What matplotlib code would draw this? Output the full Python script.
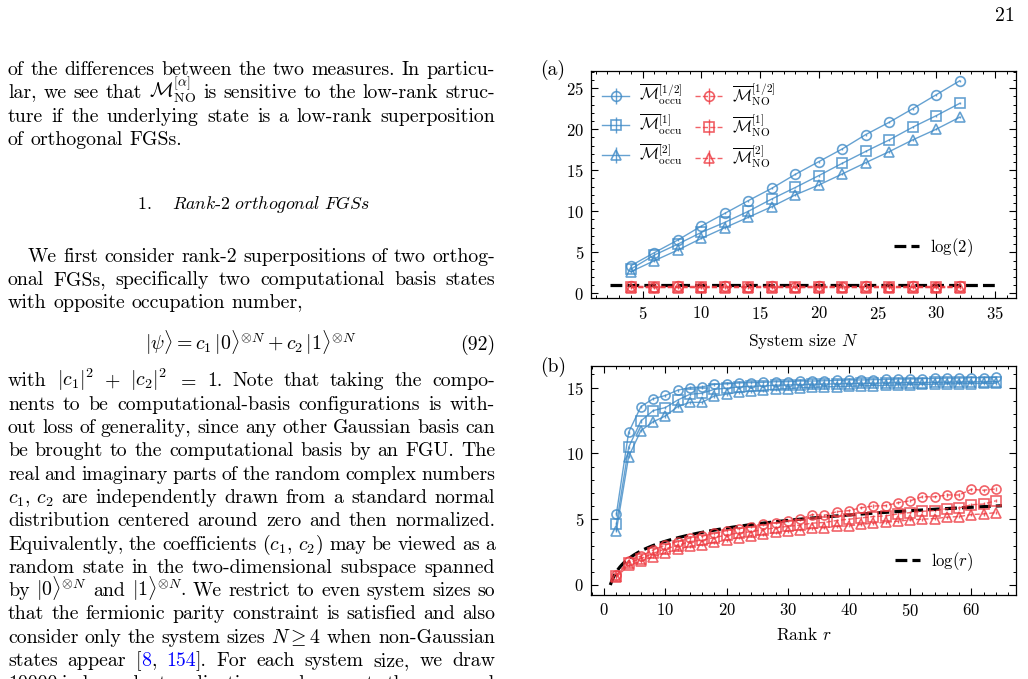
import numpy as np
import matplotlib
matplotlib.use('Agg')
import matplotlib.pyplot as plt
from matplotlib.ticker import MultipleLocator
from matplotlib.colors import to_rgba

plt.rcParams['font.family'] = 'serif'
plt.rcParams['font.serif'] = ['cmr10']
plt.rcParams['mathtext.fontset'] = 'cm'
plt.rcParams['axes.formatter.use_mathtext'] = True
plt.rcParams['axes.unicode_minus'] = False

# ---- data, panel (a): system size N ----
N = [4, 6, 8, 10, 12, 14, 16, 18, 20, 22, 24, 26, 28, 30, 32]
occu_half = [3.37, 4.96, 6.5, 8.2, 9.75, 11.3, 12.8, 14.5, 16.05, 17.6, 19.35, 20.85, 22.5, 24.2, 25.9]
occu_one = [2.96, 4.67, 6.0, 7.43, 8.65, 10.0, 11.5, 12.9, 14.35, 15.85, 17.3, 18.7, 20.25, 21.65, 23.15]
occu_two = [2.64, 3.98, 5.28, 6.7, 8.0, 9.27, 10.56, 12.0, 13.2, 14.55, 15.93, 17.27, 18.7, 20.0, 21.46]
no_half = [0.84, 0.83, 0.84, 0.83, 0.84, 0.83, 0.84, 0.83, 0.84, 0.83, 0.84, 0.83, 0.84, 0.83, 0.84]
no_one = [0.76, 0.75, 0.76, 0.75, 0.76, 0.75, 0.76, 0.75, 0.76, 0.75, 0.76, 0.75, 0.76, 0.75, 0.76]
no_two = [0.7, 0.69, 0.7, 0.69, 0.7, 0.69, 0.7, 0.69, 0.7, 0.69, 0.7, 0.69, 0.7, 0.69, 0.7]
err_a = [0.12] * len(N)

# ---- data, panel (b): rank r ----
r = [2, 4, 6, 8, 10, 12, 14, 16, 18, 20, 22, 24, 26, 28, 30, 32,
     34, 36, 38, 40, 42, 44, 46, 48, 50, 52, 54, 56, 58, 60, 62, 64]
r_occu_half = [5.4, 11.6, 13.55, 14.15, 14.4, 14.8, 15.0, 15.05, 15.25, 15.28, 15.35, 15.38, 15.4, 15.45, 15.45, 15.5,
               15.5, 15.52, 15.55, 15.58, 15.58, 15.6, 15.62, 15.65, 15.65, 15.68, 15.7, 15.72, 15.72, 15.75, 15.75, 15.78]
r_occu_one = [4.63, 10.46, 12.46, 13.25, 13.48, 14.05, 14.49, 14.57, 14.87, 14.95, 15.05, 15.1, 15.12, 15.18, 15.2, 15.22,
              15.25, 15.27, 15.28, 15.3, 15.32, 15.33, 15.35, 15.36, 15.37, 15.38, 15.4, 15.41, 15.42, 15.43, 15.44, 15.45]
r_occu_two = [4.13, 9.75, 11.73, 12.4, 12.84, 13.55, 13.88, 13.88, 14.36, 14.5, 14.65, 14.72, 14.8, 14.88, 14.92, 14.98,
              15.02, 15.05, 15.08, 15.1, 15.13, 15.15, 15.17, 15.2, 15.22, 15.24, 15.26, 15.28, 15.3, 15.31, 15.32, 15.33]
r_no_half = [0.76, 1.85, 2.2, 2.66, 3.04, 3.29, 3.57, 3.7, 3.93, 4.13, 4.28, 4.43, 4.6, 4.73, 4.89, 5.0,
             5.35, 5.3, 5.57, 5.65, 5.87, 6.0, 6.03, 6.25, 6.4, 6.7, 6.7, 6.84, 6.84, 7.27, 7.2, 7.3]
r_no_one = [0.7, 1.7, 2.0, 2.4, 2.75, 3.0, 3.3, 3.4, 3.6, 3.8, 3.95, 4.05, 4.2, 4.35, 4.45, 4.55,
            4.7, 4.75, 4.9, 5.0, 5.1, 5.2, 5.25, 5.4, 5.5, 5.6, 5.65, 5.8, 5.85, 6.1, 6.15, 6.4]
r_no_two = [0.6, 1.5, 1.8, 2.15, 2.45, 2.7, 2.95, 3.05, 3.25, 3.4, 3.6, 3.75, 3.85, 4.0, 4.1, 4.2,
            4.3, 4.35, 4.45, 4.5, 4.6, 4.7, 4.75, 4.85, 4.95, 5.0, 5.05, 5.15, 5.2, 5.35, 5.4, 5.5]
err_b = [0.12] * len(r)

labels = [r'$\overline{\mathcal{M}}^{[1/2]}_{\mathrm{occu}}$',
          r'$\overline{\mathcal{M}}^{[1]}_{\mathrm{occu}}$',
          r'$\overline{\mathcal{M}}^{[2]}_{\mathrm{occu}}$',
          r'$\overline{\mathcal{M}}^{[1/2]}_{\mathrm{NO}}$',
          r'$\overline{\mathcal{M}}^{[1]}_{\mathrm{NO}}$',
          r'$\overline{\mathcal{M}}^{[2]}_{\mathrm{NO}}$']
markers = ['o', 's', '^']

BLUE = to_rgba('#3f8ac6', 0.8)
RED = to_rgba('#ee3b42', 0.8)
LINK = '#0000ff'

W, H = 1028, 679
fig = plt.figure(figsize=(W / 100, H / 100), dpi=100)
renderer = fig.canvas.get_renderer()

def fx(x):
    return x / W

def fy(y):
    return 1 - y / H

# ---------------- body text ----------------
BODY = 14.3

def text_width(s):
    t = fig.text(0, 0, s, fontsize=BODY)
    w = t.get_window_extent(renderer).width
    t.remove()
    return w

def put_line(line, y, x0=8, x1=495, justify=True):
    words = [w for w in line.split(' ') if w]
    pieces = []
    for w in words:
        segs = w.split('@')
        pieces.append([(s, LINK if i % 2 else 'black') for i, s in enumerate(segs) if s])
    widths = [[text_width(s) for s, c in p] for p in pieces]
    total = sum(sum(ws) for ws in widths)
    if justify and len(words) > 1:
        gap = (x1 - x0 - total) / (len(words) - 1)
    else:
        gap = 0.333 * BODY * 100 / 72
    x = x0
    for p, ws in zip(pieces, widths):
        for (s, c), w in zip(p, ws):
            fig.text(fx(x), fy(y), s, fontsize=BODY, color=c, va='baseline', ha='left')
            x += w
        x += gap

LS = 23.3
para1 = ["of the differences between the two measures. In particu-",
         r"lar, we see that $\mathcal{M}^{[\alpha]}_{\mathrm{NO}}$ is sensitive to the low-rank struc-",
         "ture if the underlying state is a low-rank superposition",
         "of orthogonal FGSs."]
para2 = ["We first consider rank-2 superpositions of two orthog-",
         "onal FGSs, specifically two computational basis states",
         "with opposite occupation number,"]
para3 = [r"with $|c_1|^2$ $+$ $|c_2|^2$ $=$ 1.  Note that taking the compo-",
         "nents to be computational-basis configurations is with-",
         "out loss of generality, since any other Gaussian basis can",
         "be brought to the computational basis by an FGU. The",
         "real and imaginary parts of the random complex numbers",
         r"$c_1,\,c_2$ are independently drawn from a standard normal",
         "distribution centered around zero and then normalized.",
         r"Equivalently, the coefficients $(c_1,\,c_2)$ may be viewed as a",
         "random state in the two-dimensional subspace spanned",
         r"by $|0\rangle^{\otimes{N}}$ and $|1\rangle^{\otimes{N}}$. We restrict to even system sizes so",
         "that the fermionic parity constraint is satisfied and also",
         r"consider only the system sizes $N\geq4$ when non-Gaussian",
         "states appear [@8@, @154@]. For each system size, we draw",
         "10000 independent realizations and compute the averaged"]

for i, line in enumerate(para1):
    put_line(line, 75 + i * LS, justify=(i < len(para1) - 1))
fig.text(fx(137), fy(209), r'$\mathit{1.}$', fontsize=13, ha='left', va='baseline')
fig.text(fx(172), fy(209), r'$\mathit{Rank}$-$\mathit{2\ orthogonal\ FGSs}$',
         fontsize=12.8, ha='left', va='baseline')
for i, line in enumerate(para2):
    put_line(line, 261.5 + i * LS, x0=28 if i == 0 else 8, justify=(i < len(para2) - 1))
fig.text(fx(251), fy(350), r'$|\psi\rangle = c_1\,|0\rangle^{\otimes N} + c_2\,|1\rangle^{\otimes N}$',
         fontsize=BODY, ha='center', va='baseline')
fig.text(fx(495), fy(350), '(92)', fontsize=BODY, ha='right', va='baseline')
for i, line in enumerate(para3):
    put_line(line, 386.4 + i * LS)
fig.text(fx(1015), fy(21), '21', fontsize=BODY, ha='right', va='baseline')

# ---------------- panels ----------------
TICK = 12

def style_axes(ax, xmaj, xmin, ymaj, ymin):
    ax.xaxis.set_major_locator(MultipleLocator(xmaj))
    ax.xaxis.set_minor_locator(MultipleLocator(xmin))
    ax.yaxis.set_major_locator(MultipleLocator(ymaj))
    ax.yaxis.set_minor_locator(MultipleLocator(ymin))
    ax.tick_params(which='both', direction='in', top=True, right=True, labelsize=TICK)
    ax.tick_params(which='major', length=5, width=0.8, pad=5)
    ax.tick_params(which='minor', length=2.5, width=0.7)
    for s in ax.spines.values():
        s.set_linewidth(0.9)

def draw_series(ax, x, ys, err, ms):
    handles = []
    for y, m in zip(ys[:3], markers):
        h = ax.errorbar(x, y, yerr=err, color=BLUE, marker=m, mfc='none', mec=BLUE, ms=ms, mew=1.2,
                        lw=1.0, elinewidth=1.0)
        handles.append(h)
    for y, m in zip(ys[3:], markers):
        h = ax.errorbar(x, y, yerr=err, color=RED, marker=m, mfc='none', mec=RED, ms=ms, mew=1.2,
                        lw=1.0, ls='--', elinewidth=1.0)
        handles.append(h)
    return handles

ax1 = fig.add_axes([591 / W, 1 - 298 / H, 425 / W, 227 / H])
hs = draw_series(ax1, N, [occu_half, occu_one, occu_two, no_half, no_one, no_two], err_a, 7)
ref_a, = ax1.plot([2.2, 35], [np.log2(2), np.log2(2)], 'k--', lw=2.3)
ax1.set_xlim(0.6, 36.8)
ax1.set_ylim(-0.57, 27.1)
style_axes(ax1, 5, 1, 5, 1)
ax1.set_xlabel(r'System size $N$', fontsize=12.5, labelpad=7)
leg1 = ax1.legend(hs, labels, loc='upper left', ncol=2, frameon=False, fontsize=11.5,
                  handlelength=1.7, handletextpad=0.6, columnspacing=0.8, labelspacing=0.35,
                  borderaxespad=0.3, bbox_to_anchor=(0.0, 1.0))
ax1.add_artist(leg1)
ax1.legend([ref_a], [r'$\log(2)$'], loc='lower right', frameon=False, fontsize=12,
           handlelength=1.5, handletextpad=0.7, bbox_to_anchor=(0.935, 0.105))
fig.text(fx(540), fy(75), '(a)', fontsize=14, ha='left', va='baseline')

ax2 = fig.add_axes([591 / W, 1 - 595 / H, 425 / W, 229 / H])
draw_series(ax2, r, [r_occu_half, r_occu_one, r_occu_two, r_no_half, r_no_one, r_no_two], err_b, 6.5)
rr = np.linspace(1, 65, 200)
ref_b, = ax2.plot(rr, np.log2(rr), 'k--', lw=2.3)
ax2.set_xlim(-2.15, 67.3)
ax2.set_ylim(-0.76, 16.64)
style_axes(ax2, 10, 2, 5, 1)
ax2.set_xlabel(r'Rank $r$', fontsize=12.5, labelpad=5)
ax2.legend([ref_b], [r'$\log(r)$'], loc='lower right', frameon=False, fontsize=12,
           handlelength=1.5, handletextpad=0.7, bbox_to_anchor=(0.935, 0.03))
fig.text(fx(540), fy(372), '(b)', fontsize=14, ha='left', va='baseline')

fig.savefig('out.png', dpi=100)
